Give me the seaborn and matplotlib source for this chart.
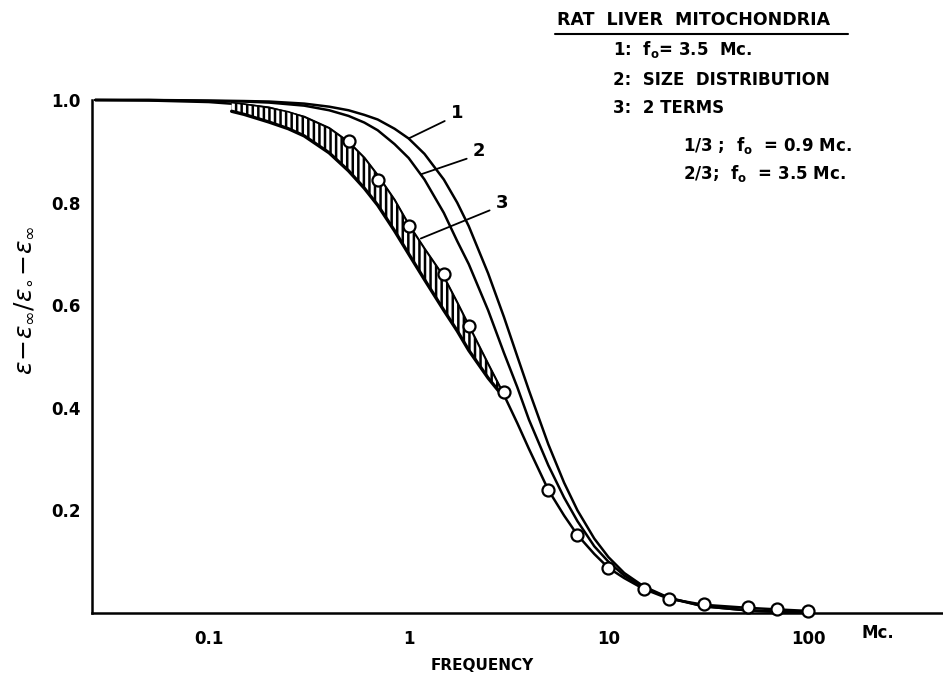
import numpy as np
import pandas as pd
import matplotlib
matplotlib.use("Agg")
import matplotlib.pyplot as plt
import seaborn as sns
from matplotlib.lines import Line2D

# ---------------- data ----------------
freq_curve = [0.027, 0.05, 0.1, 0.15, 0.2, 0.3, 0.4, 0.5, 0.6, 0.7, 0.85, 1, 1.2, 1.5,
              1.75, 2, 2.5, 3, 3.5, 4, 5, 6, 7, 8.5, 10, 12, 15, 20, 30, 50, 70, 100]
curve1 = [1.0, 1.0, 0.999, 0.998, 0.997, 0.993, 0.987, 0.980, 0.971, 0.962, 0.944, 0.925,
          0.895, 0.845, 0.80, 0.754, 0.662, 0.577, 0.5, 0.434, 0.329, 0.254, 0.2, 0.145,
          0.109, 0.078, 0.052, 0.03, 0.013, 0.005, 0.0025, 0.0012]
curve2 = [1.0, 1.0, 0.998, 0.997, 0.995, 0.989, 0.98, 0.969, 0.956, 0.941, 0.914, 0.887,
          0.845, 0.78, 0.725, 0.68, 0.59, 0.507, 0.44, 0.377, 0.288, 0.225, 0.179, 0.13,
          0.1, 0.073, 0.05, 0.029, 0.013, 0.005, 0.0025, 0.0012]
curve3 = [1.0, 0.999, 0.996, 0.991, 0.985, 0.967, 0.945, 0.918, 0.887, 0.853, 0.805, 0.757,
          0.71, 0.655, 0.605, 0.56, 0.485, 0.425, 0.37, 0.32, 0.24, 0.19, 0.152, 0.115,
          0.088, 0.068, 0.047, 0.028, 0.016, 0.01, 0.007, 0.004]

band_freq = [0.13, 0.15, 0.2, 0.25, 0.3, 0.4, 0.5, 0.6, 0.7, 0.85, 1, 1.2, 1.5, 1.75, 2,
             2.5, 3]
band_low = [0.978, 0.972, 0.957, 0.944, 0.93, 0.897, 0.862, 0.828, 0.795, 0.745, 0.70,
            0.65, 0.59, 0.55, 0.512, 0.458, 0.42]
band_high = [0.995, 0.992, 0.985, 0.977, 0.967, 0.945, 0.918, 0.887, 0.853, 0.805, 0.757,
             0.71, 0.655, 0.605, 0.56, 0.485, 0.425]

meas_freq = [0.5, 0.7, 1, 1.5, 2, 3, 5, 7, 10, 15, 20, 30, 50, 70, 100]
meas_val = [0.92, 0.845, 0.755, 0.66, 0.56, 0.43, 0.24, 0.152, 0.088, 0.047, 0.027,
            0.018, 0.012, 0.008, 0.004]

x_ticks = [0.1, 1, 10, 100]
x_ticklabels = ["0.1", "1", "10", "100"]
y_ticks = [0.2, 0.4, 0.6, 0.8, 1.0]
y_ticklabels = ["0.2", "0.4", "0.6", "0.8", "1.0"]

# ---------------- figure ----------------
sns.set_style("white")
plt.rcParams["font.family"] = ["DejaVu Sans"]
plt.rcParams["hatch.linewidth"] = 1.8
plt.rcParams["mathtext.fontset"] = "dejavusans"
plt.rcParams["text.color"] = "black"
plt.rcParams["axes.labelcolor"] = "black"

W, H = 943, 673
fig = plt.figure(figsize=(W / 100, H / 100), dpi=100)
ax_l, ax_r, ax_b, ax_t = 92, 943, 613, 100
ax = fig.add_axes([ax_l / W, (H - ax_b) / H, (ax_r - ax_l) / W, (ax_b - ax_t) / H])

df = pd.DataFrame({"f": freq_curve, "c1": curve1, "c2": curve2, "c3": curve3})
for col in ["c1", "c2", "c3"]:
    sns.lineplot(data=df, x="f", y=col, ax=ax, color="black", linewidth=1.8,
                 clip_on=False, estimator=None, sort=False)

# hatched band
ax.fill_between(band_freq, band_low, band_high, facecolor="white", edgecolor="black",
                hatch="|||", linewidth=0, zorder=2)
ax.plot(band_freq, band_low, color="black", linewidth=2.4, zorder=3)
ax.plot(band_freq, band_high, color="black", linewidth=1.2, zorder=3)

dm = pd.DataFrame({"f": meas_freq, "v": meas_val})
sns.scatterplot(data=dm, x="f", y="v", ax=ax, s=75, facecolor="white",
                edgecolor="black", linewidth=1.6, zorder=5, clip_on=False)

ax.set_xscale("log")
ax.set_xlim(0.026, 473)
ax.set_ylim(0, 1.0)
ax.set_xticks(x_ticks)
ax.set_xticklabels(x_ticklabels)
ax.set_yticks(y_ticks)
ax.set_yticklabels(y_ticklabels)
ax.set_yticks([0.1, 0.3, 0.5, 0.7, 0.9], minor=True)
ax.xaxis.set_minor_locator(matplotlib.ticker.LogLocator(base=10, subs=np.arange(2, 10)))
ax.xaxis.set_minor_formatter(matplotlib.ticker.NullFormatter())
ax.tick_params(axis="both", which="both", direction="in", length=7, width=1.3,
               labelsize=12, colors="black")
ax.tick_params(axis="x", which="major", pad=12)
ax.tick_params(axis="y", which="major", pad=8)
for lab in ax.get_xticklabels() + ax.get_yticklabels():
    lab.set_fontweight("bold")
ax.set_xlabel("")
ax.set_ylabel("")
sns.despine(ax=ax)
for sp in ["left", "bottom"]:
    ax.spines[sp].set_linewidth(1.8)
    ax.spines[sp].set_color("black")

# curve labels with leader lines
for lbl, xy, xytext in [("1", (1.0, 0.925), (1.62, 0.975)),
                        ("2", (1.15, 0.855), (2.09, 0.9)),
                        ("3", (1.15, 0.73), (2.72, 0.8))]:
    ax.annotate(lbl, xy=xy, xytext=xytext, fontsize=13, fontweight="bold",
                ha="left", va="center", color="black",
                arrowprops=dict(arrowstyle="-", color="black", lw=1.3,
                                shrinkA=2, shrinkB=0, relpos=(0, 0.2)))

# axis titles
fig.text(482 / W, 1 - 665 / H, "FREQUENCY", ha="center", va="center",
         fontsize=11, fontweight="bold")
fig.text(878 / W, 1 - 633 / H, "Mc.", ha="center", va="center",
         fontsize=12, fontweight="bold")
fig.text(24 / W, 1 - 300 / H,
         r"$\varepsilon\!-\!\varepsilon_{\infty}/\varepsilon_{\circ}\!-\!\varepsilon_{\infty}$",
         rotation=90, ha="center", va="center", fontsize=18)

# legend text block
fig.text(557 / W, 1 - 20 / H, "RAT  LIVER  MITOCHONDRIA", ha="left", va="center",
         fontsize=12.5, fontweight="bold")
fig.add_artist(Line2D([555 / W, 848 / W], [1 - 34 / H, 1 - 34 / H], color="black", lw=1.5))
fig.text(613 / W, 1 - 50 / H, r"1:  f$_{\mathregular{o}}$= 3.5  Mc.", ha="left", va="center",
         fontsize=12, fontweight="bold")
fig.text(613 / W, 1 - 80 / H, "2:  SIZE  DISTRIBUTION", ha="left", va="center",
         fontsize=12, fontweight="bold")
fig.text(613 / W, 1 - 108 / H, "3:  2 TERMS", ha="left", va="center",
         fontsize=12, fontweight="bold")
fig.text(683 / W, 1 - 145 / H, r"1/3 ;  f$_{\mathregular{o}}$  = 0.9 Mc.", ha="left",
         va="center", fontsize=12, fontweight="bold")
fig.text(683 / W, 1 - 173 / H, r"2/3;  f$_{\mathregular{o}}$  = 3.5 Mc.", ha="left",
         va="center", fontsize=12, fontweight="bold")

fig.savefig("out.png", dpi=100)
